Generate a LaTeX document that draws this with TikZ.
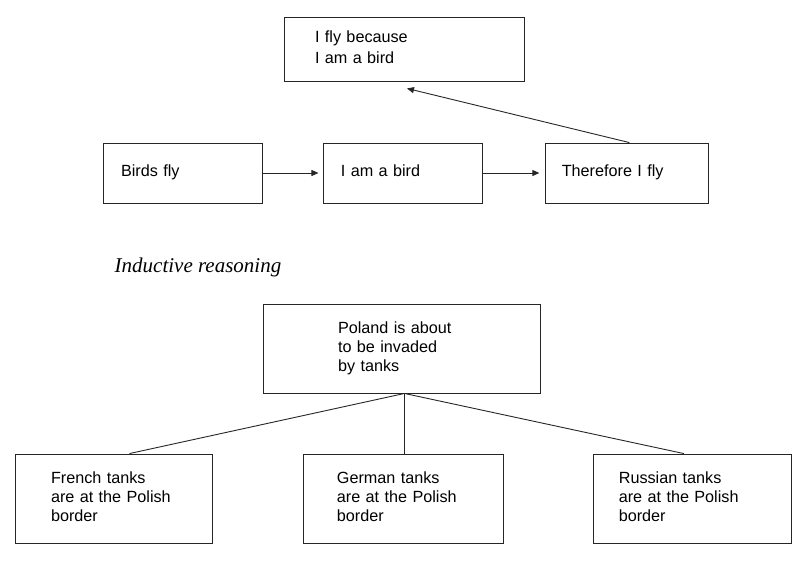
\documentclass[tikz,border=0pt]{standalone}
\usepackage{fontspec}
\setmainfont{Liberation Sans}
\newfontfamily\captionserif{Liberation Serif}
\usetikzlibrary{positioning, arrows.meta}

\begin{document}
\begin{tikzpicture}[
    x=1pt, y=-1pt,
    card/.style={draw=black!85, line width=0.9pt, align=left, inner ysep=0pt, font=\fontsize{16.2}{19}\selectfont,
      execute at begin node=\strut, execute at end node=\strut},
    arr/.style={draw=black!85, -{Triangle[length=7pt, width=6pt]}, line width=0.9pt},
    link/.style={draw=black!85, line width=0.9pt}
  ]
    \useasboundingbox (0,0) rectangle (807,565);

    % deductive chain
    \node[card, text width=178pt, inner xsep=31pt, minimum height=64pt] (fly) at (404,49) {I fly because\\[2pt]I am a bird};
    \node[card, text width=123pt, inner xsep=18pt, minimum height=60pt] (birds) at (182.5,173) {Birds fly};
    \node[card, text width=125pt, inner xsep=17pt, minimum height=60pt, right=61pt of birds] (iam) {I am a bird};
    \node[card, text width=131pt, inner xsep=16pt, minimum height=60pt, right=62pt of iam] (therefore) {Therefore I fly};

    \node[font=\captionserif\itshape\fontsize{21}{25}\selectfont] (inductive) at (198,267) {Inductive reasoning};

    % inductive tree
    \node[card, text width=127pt, inner xsep=75pt, minimum height=89pt] (poland) at (401.5,348.5) {Poland is about\\to be invaded\\by tanks};
    \node[card, text width=125pt, inner xsep=36pt, minimum height=89pt] (french) at (113.5,498.5) {French tanks\\are at the Polish\\border};
    \node[card, text width=134pt, inner xsep=33pt, minimum height=89pt, right=91pt of french] (german) {German tanks\\are at the Polish\\border};
    \node[card, text width=148pt, inner xsep=25pt, minimum height=89pt, right=89pt of german] (russian) {Russian tanks\\are at the Polish\\border};

    \coordinate (flytip) at ([xshift=3pt, yshift=-7pt]fly.south);
    \coordinate (hub) at ([xshift=3pt]poland.south);

    \draw[arr, shorten >=5pt] (birds) -- (iam);
    \draw[arr, shorten >=6pt] (iam) -- (therefore);
    \draw[arr] ([xshift=2pt]therefore.north) -- (flytip);
    \draw[link] (hub) -- ([xshift=16pt]french.north);
    \draw[link] (hub) -- (hub |- german.north);
    \draw[link] (hub) -- ([xshift=-9pt]russian.north);
  \end{tikzpicture}
\end{document}
